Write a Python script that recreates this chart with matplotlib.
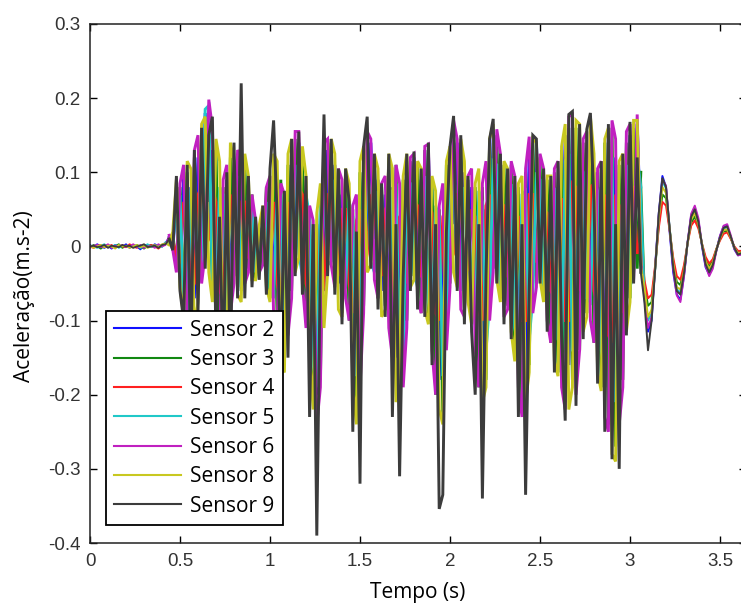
import numpy as np
import matplotlib
matplotlib.use("Agg")
import matplotlib.pyplot as plt

plt.rcParams['axes.unicode_minus'] = False

# ---- data (acceleration in thousandths of m.s-2, sampled every 0.02 s) ----
dt = 0.02
sensor_names = ["Sensor 2", "Sensor 3", "Sensor 4", "Sensor 5", "Sensor 6", "Sensor 8", "Sensor 9"]

s2_quiet = [2,-1,3,0,-2,1,-3,2,0,-1,3,-2,1,0,-4,2,1,-1,3,0,2,5]
s2_active = [12,-5,70,-35,95,-90,80,-70,120,-30,
             180,60,130,-80,70,-120,90,-60,100,-30,
             110,-40,70,-30,20,-35,30,-40,80,-60,
             90,-130,40,-90,120,20,140,30,60,-110,
             10,-200,50,-60,130,40,110,-50,70,-40,
             60,-140,30,-150,110,20,140,10,90,-60,
             70,-80,80,-150,40,-170,100,-20,120,-40,
             90,-50,130,-90,50,-180,20,-100,120,30,
             140,-40,100,-50,80,-100,60,-190,50,-60,
             150,20,110,-60,90,-80,70,-130,40,-180,
             130,-40,140,10,90,-70,60,-110,80,-130,
             150,-160,170,-120,150,-60,130,-50,100,-120,
             80,-190,150,-220,120,-200,90,-50,150,60,165,20]
s2_decay = [-70,-115,-100,-25,45,95,80,20,-35,-65,-72,-40,5,42,52,35,0,-28,-38,-26,-5,14,27,28,12,-4,-12,-10]

s3_quiet = [-1,2,0,-3,1,2,-1,0,3,-2,1,0,-1,2,0,-3,1,2,-1,0,1,4]
s3_active = [5,18,-30,80,-80,100,-120,120,-50,150,
             10,160,-60,130,-130,80,-140,120,-40,125,
             -60,110,-30,70,-45,25,-25,80,-70,110,
             -100,90,-160,110,-60,145,0,120,-100,50,
             -190,30,-180,130,-20,140,-50,100,-90,100,
             -100,50,-220,100,-80,150,-20,120,-70,80,
             -80,120,-150,110,-180,90,-100,115,-40,110,
             -90,130,-100,90,-200,50,-230,110,-50,160,
             -50,140,-90,90,-100,80,-190,80,-180,140,
             -30,150,-70,110,-80,110,-150,80,-220,100,
             -160,140,-50,120,-70,90,-130,100,-170,130,
             -210,160,-180,160,-140,140,-90,160,-130,100,
             -190,140,-240,160,-270,110,-180,140,-70,160,-30,100]
s3_decay = [-50,-80,-75,-30,30,70,65,25,-20,-48,-52,-30,5,32,40,28,3,-18,-27,-20,-4,10,20,21,11,-1,-8,-7]

s4_quiet = [0,-2,1,2,-1,0,2,-2,1,0,-1,3,0,-2,1,0,-1,2,0,-3,1,3]
s4_active = [8,10,-15,-20,60,50,-60,-50,70,80,
             0,10,80,60,-60,-70,60,70,-20,-30,
             60,60,-15,-20,15,10,-10,-25,50,60,
             -50,-80,30,60,-30,-10,80,70,-50,-70,
             15,20,-90,-50,70,70,-20,-40,50,50,
             -50,-90,35,50,-40,-10,70,60,-30,-40,
             50,60,-70,-100,40,45,-50,-20,60,55,
             -40,-40,65,45,-90,-100,40,55,-20,-10,
             70,70,-40,-30,50,40,-90,-100,55,70,
             -10,-20,60,55,-40,-50,45,40,-100,-100,
             70,70,-20,-20,50,45,-60,-70,55,65,
             -100,-100,85,80,-60,-50,75,80,-60,-80,
             55,70,-120,-130,70,55,-90,-50,80,80,-10,10]
s4_decay = [-45,-70,-65,-25,25,60,55,22,-15,-40,-45,-25,4,28,35,24,4,-14,-23,-17,-3,8,17,19,10,0,-6,-6]

s5_quiet = [1,0,-2,1,3,-1,0,2,-2,1,0,-1,2,1,-2,0,3,-1,0,2,-1,6]
s5_active = [3,2,60,65,-70,-95,75,95,-50,-40,
             185,190,-55,-80,80,70,-100,-75,80,95,
             -55,-40,70,55,-35,-25,40,60,-55,-70,
             80,70,-120,-100,100,110,-10,-40,70,40,
             -160,-190,60,100,-25,-20,90,75,-70,-55,
             60,40,-175,-140,95,110,-20,-35,75,60,
             -60,-85,75,80,-130,-140,90,85,-35,-55,
             75,95,-75,-105,55,40,-175,-105,95,120,
             -40,-60,80,70,-75,-105,75,60,-140,-75,
             115,110,-55,-70,75,80,-110,-140,70,75,
             -125,-70,100,90,-55,-75,70,75,-125,-140,
             115,125,-140,-145,115,100,-70,-75,90,75,
             -140,-170,110,120,-210,-175,90,110,-55,-35,120,80]
s5_decay = [-60,-100,-90,-30,40,88,78,26,-26,-58,-62,-36,5,38,48,32,3,-22,-33,-24,-5,12,24,26,13,-2,-10,-9]

s6_quiet = [-2,1,2,-1,0,3,-2,1,0,2,-1,0,3,-1,2,-2,0,1,-2,3,0,2]
s6_active = [15,-5,-35,85,110,-110,-130,130,150,-50,
             -10,198,160,-100,-140,90,110,-90,-50,130,
             120,-50,-35,70,35,-35,-25,80,95,-90,
             -110,85,70,-120,-70,155,155,-50,-110,55,
             35,-240,-190,140,145,-25,-55,105,90,-70,
             -100,55,70,-190,-90,155,145,-45,-70,85,
             95,-110,-150,110,85,-190,-110,120,125,-70,
             -90,135,138,-140,-200,55,85,-140,-55,170,
             145,-85,-95,95,105,-140,-190,85,115,-100,
             -35,158,125,-95,-85,115,95,-190,-230,105,
             148,-90,-55,125,105,-100,-130,105,115,-190,
             -220,175,178,-200,-140,145,155,-100,-130,105,
             115,-230,-250,170,145,-240,-190,155,165,-45,178,-20]
s6_decay = [-65,-110,-95,-28,42,90,82,24,-30,-66,-75,-40,6,44,55,38,2,-26,-40,-30,-6,14,28,30,15,-3,-12,-11]

s8_quiet = [1,-2,0,2,-1,1,0,-3,2,0,1,-2,0,2,-1,1,-2,0,2,-1,3,4]
s8_active = [2,20,90,-55,-95,115,105,-110,-75,165,
             175,-35,-75,145,115,-150,-140,140,115,-65,
             -75,125,95,-45,-45,28,55,-55,-75,125,
             115,-160,-170,125,145,-35,-15,135,95,-150,
             -220,45,85,-110,-35,145,125,-85,-95,105,
             85,-190,-240,115,135,-35,-25,125,105,-95,
             -85,125,105,-210,-170,95,125,-55,-45,115,
             105,-85,-105,95,75,-220,-240,115,135,-35,
             -55,145,115,-75,-105,85,105,-210,-190,145,
             165,-45,-75,115,105,-115,-155,85,95,-210,
             -170,145,140,-45,-75,95,95,-155,-175,135,
             165,-220,-190,170,165,-115,-95,175,125,-170,
             -195,145,160,-280,-290,115,125,-115,-75,170,170,-25]
s8_decay = [-55,-95,-85,-28,38,80,72,24,-22,-55,-58,-33,4,36,45,30,3,-20,-30,-22,-4,11,22,23,12,-2,-9,-8]

s9_quiet = [0,1,-1,0,2,-2,1,0,-1,2,0,1,-2,0,1,3,-1,0,1,-2,2,3]
s9_active = [10,-5,95,-60,-100,110,-160,130,-90,160,
             -30,150,175,-130,40,-170,100,-170,140,-70,
             220,-70,95,-55,40,-45,55,-65,105,170,
             40,-180,75,-150,145,-40,155,-65,95,-230,
             30,-390,-20,178,-40,145,-65,105,-105,105,
             60,-250,20,-320,135,175,-30,125,-85,85,
             -95,125,-230,30,-310,-40,125,-60,128,-85,
             105,-95,140,-160,30,-354,-335,20,135,176,
             -60,150,-105,95,-115,-200,30,-340,-40,145,
             172,-50,125,-105,105,-125,95,-230,30,-335,
             -60,150,145,-50,105,-115,95,-170,115,-120,
             -235,178,182,-215,165,-125,158,180,60,-185,
             115,-250,165,-287,30,-300,125,-120,168,-50,120,-35]
s9_decay = [-75,-140,-100,-30,45,92,80,25,-28,-60,-65,-36,5,40,50,33,2,-24,-35,-25,-5,12,25,27,13,-2,-11,-9]

sensor_colors = ["#1010ff", "#118811", "#ff2020", "#20c8c8", "#c020c0", "#c8c820", "#3c3c3c"]

x_ticks = [0, 0.5, 1, 1.5, 2, 2.5, 3, 3.5]
x_ticklabels = ["0", "0.5", "1", "1.5", "2", "2.5", "3", "3.5"]
y_ticks = [-0.4, -0.3, -0.2, -0.1, 0, 0.1, 0.2, 0.3]
y_ticklabels = ["-0.4", "-0.3", "-0.2", "-0.1", "0", "0.1", "0.2", "0.3"]

sensors = [
    (s2_quiet, s2_active, s2_decay),
    (s3_quiet, s3_active, s3_decay),
    (s4_quiet, s4_active, s4_decay),
    (s5_quiet, s5_active, s5_decay),
    (s6_quiet, s6_active, s6_decay),
    (s8_quiet, s8_active, s8_decay),
    (s9_quiet, s9_active, s9_decay),
]

W, H = 741, 604
fig = plt.figure(figsize=(W / 100, H / 100), dpi=100)
ax = fig.add_axes([90 / W, (H - 543) / H, (746 - 90) / W, (543 - 24) / H])

for name, (q, a, d), col in zip(sensor_names, sensors, sensor_colors):
    v = np.array(q + a + d, dtype=float) / 1000.0
    t = np.arange(len(v)) * dt
    nq, na = len(q), len(a)
    # quiet start
    ax.plot(t[:nq + 1], v[:nq + 1], color=col, lw=1.3)
    # strong-motion part (thick strokes)
    ax.plot(t[nq:nq + na], v[nq:nq + na], color=col, lw=2.1,
            solid_joinstyle='miter', label=name)
    # free decay
    ax.plot(t[nq + na - 1:], v[nq + na - 1:], color=col, lw=1.4)

ax.set_xlim(0, (746 - 90) / 180)
ax.set_ylim(-0.4, 0.3)

tick_font = dict(family=['Liberation Sans', 'DejaVu Sans'], size=13.5, color='#333333')
ax.set_xticks(x_ticks)
ax.set_xticklabels(x_ticklabels, fontdict=tick_font)
ax.set_yticks(y_ticks)
ax.set_yticklabels(y_ticklabels, fontdict=tick_font)
ax.tick_params(direction='in', top=True, right=True, length=5, width=1, pad=7)

for s in ax.spines.values():
    s.set_linewidth(1.1)
    s.set_color('#222222')

label_font = dict(family=['Open Sans', 'DejaVu Sans'], size=15)
ax.set_xlabel("Tempo (s)", fontdict=label_font, labelpad=9)
ax.set_ylabel("Aceleração(m.s-2)", fontdict=label_font)
ax.yaxis.set_label_coords((35 - 90) / 656, (543 - 296) / 519)

leg = ax.legend(loc='lower left', bbox_to_anchor=(106 / W, (H - 525) / H),
                bbox_transform=fig.transFigure, borderaxespad=0,
                prop={'family': ['Open Sans', 'DejaVu Sans'], 'size': 15},
                handlelength=3.2, handletextpad=0.45, labelspacing=0.40,
                borderpad=0.4, fancybox=False, framealpha=1, edgecolor='black')
leg.get_frame().set_linewidth(1.3)
for line in leg.get_lines():
    line.set_linewidth(1.5)

fig.savefig("out.png", dpi=100)
